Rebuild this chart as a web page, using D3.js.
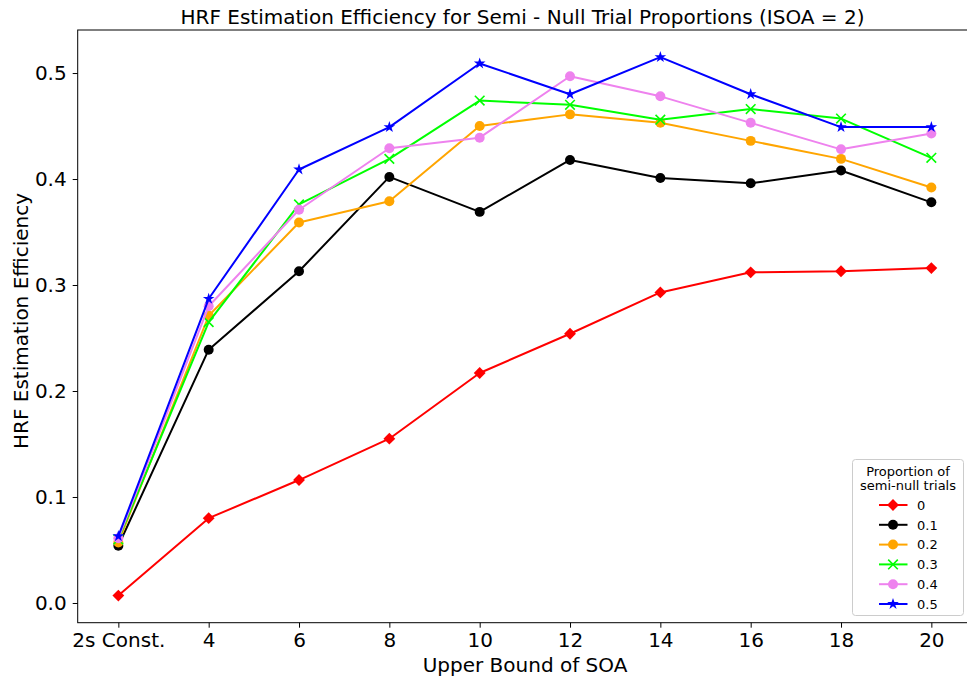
<!DOCTYPE html>
<html><head><meta charset="utf-8">
<script src="https://cdn.jsdelivr.net/npm/d3@7"></script>
<style>body{margin:0;background:#fff;} svg{display:block;font-family:"DejaVu Sans",sans-serif;}</style>
</head><body>
<svg id="chart" width="967" height="681"></svg>
<script>
const categories = ["2s Const.", "4", "6", "8", "10", "12", "14", "16", "18", "20"];
const yTicks = [0.0, 0.1, 0.2, 0.3, 0.4, 0.5];
const seriesNames = ["0", "0.1", "0.2", "0.3", "0.4", "0.5"];
const seriesColors = ["#ff0000", "#000000", "#ffa500", "#00ff00", "#ee82ee", "#0000ff"];
const seriesMarkers = ["diamond", "circle", "circle", "cross", "circle", "star"];
const s0  = [0.007, 0.080, 0.116, 0.155, 0.217, 0.254, 0.293, 0.312, 0.313, 0.316];
const s01 = [0.054, 0.239, 0.313, 0.402, 0.369, 0.418, 0.401, 0.396, 0.408, 0.378];
const s02 = [0.057, 0.271, 0.359, 0.379, 0.450, 0.461, 0.453, 0.436, 0.419, 0.392];
const s03 = [0.060, 0.265, 0.376, 0.419, 0.474, 0.470, 0.456, 0.466, 0.457, 0.420];
const s04 = [0.061, 0.280, 0.371, 0.429, 0.439, 0.497, 0.478, 0.453, 0.428, 0.443];
const s05 = [0.063, 0.287, 0.409, 0.449, 0.509, 0.480, 0.515, 0.480, 0.449, 0.449];
const seriesValues = [s0, s01, s02, s03, s04, s05];

const svg = d3.select("#chart");
const L = 77.7, R = 972, T = 30, B = 622.7;
const x = d3.scaleLinear().domain([-0.45, categories.length - 1 + 0.45]).range([L, R]);
const y = d3.scaleLinear().domain([-0.0186, 0.5406]).range([B, T]);

svg.append("text").attr("x", 522.5).attr("y", 23.5)
  .attr("text-anchor", "middle").attr("font-size", 20).text("HRF Estimation Efficiency for Semi - Null Trial Proportions (ISOA = 2)");

// axes
const xAxis = d3.axisBottom(x).tickValues(d3.range(categories.length)).tickFormat(i => categories[i]).tickSize(5).tickPadding(5);
const gx = svg.append("g").attr("transform", `translate(0,${B})`).call(xAxis);
const yAxis = d3.axisLeft(y).tickValues(yTicks).tickFormat(d3.format(".1f")).tickSize(5).tickPadding(6);
const gy = svg.append("g").attr("transform", `translate(${L},0)`).call(yAxis);
[gx, gy].forEach(g => {
  g.selectAll("text").attr("font-size", 20).attr("font-family", "DejaVu Sans").attr("fill", "#000");
  g.selectAll("line").attr("stroke", "#000").attr("stroke-width", 1);
  g.select(".domain").remove();
});
// frame
svg.append("rect").attr("x", L).attr("y", T).attr("width", R - L).attr("height", B - T)
  .attr("fill", "none").attr("stroke", "#000").attr("stroke-width", 1);

svg.append("text").attr("x", 525).attr("y", 672).attr("text-anchor", "middle")
  .attr("font-size", 20).text("Upper Bound of SOA");
svg.append("text").attr("transform", `translate(28,${321}) rotate(-90)`).attr("text-anchor", "middle")
  .attr("font-size", 20).text("HRF Estimation Efficiency");

function drawMarker(g, m, color, cx, cy) {
  if (m === "cross") {
    const r = 4.8;
    g.append("path").attr("d", `M${cx - r},${cy - r}L${cx + r},${cy + r}M${cx - r},${cy + r}L${cx + r},${cy - r}`)
      .attr("stroke", color).attr("stroke-width", 1.6).attr("fill", "none");
  } else if (m === "diamond") {
    g.append("path").attr("d", d3.symbol().type(d3.symbolSquare).size(70)())
      .attr("transform", `translate(${cx},${cy}) rotate(45)`).attr("fill", color);
  } else if (m === "circle") {
    g.append("path").attr("d", d3.symbol().type(d3.symbolCircle).size(78)())
      .attr("transform", `translate(${cx},${cy})`).attr("fill", color);
  } else {
    g.append("path").attr("d", d3.symbol().type(d3.symbolStar).size(42)())
      .attr("transform", `translate(${cx},${cy})`).attr("fill", color);
  }
}

const line = d3.line().x((d, i) => x(i)).y(d => y(d));
const plot = svg.append("g");
seriesValues.forEach((vals, si) => {
  const g = plot.append("g");
  g.append("path").datum(vals).attr("d", line).attr("fill", "none")
    .attr("stroke", seriesColors[si]).attr("stroke-width", 2).attr("stroke-linejoin", "round");
  vals.forEach((v, i) => drawMarker(g, seriesMarkers[si], seriesColors[si], x(i), y(v)));
});

// legend
const lg = svg.append("g");
lg.append("rect").attr("x", 852.5).attr("y", 459.5).attr("width", 111).attr("height", 156).attr("rx", 3)
  .attr("fill", "#fff").attr("fill-opacity", 0.8).attr("stroke", "#ccc").attr("stroke-width", 1);
lg.append("text").attr("x", 908).attr("y", 475.5).attr("text-anchor", "middle").attr("font-size", 13).text("Proportion of");
lg.append("text").attr("x", 908).attr("y", 490).attr("text-anchor", "middle").attr("font-size", 13).text("semi-null trials");
seriesNames.forEach((n, si) => {
  const yy = 505 + si * 19.8;
  lg.append("line").attr("x1", 879).attr("x2", 907.5).attr("y1", yy).attr("y2", yy)
    .attr("stroke", seriesColors[si]).attr("stroke-width", 2);
  drawMarker(lg, seriesMarkers[si], seriesColors[si], 893, yy);
  lg.append("text").attr("x", 917).attr("y", yy + 4.8).attr("font-size", 13).text(n);
});
</script>
</body></html>
